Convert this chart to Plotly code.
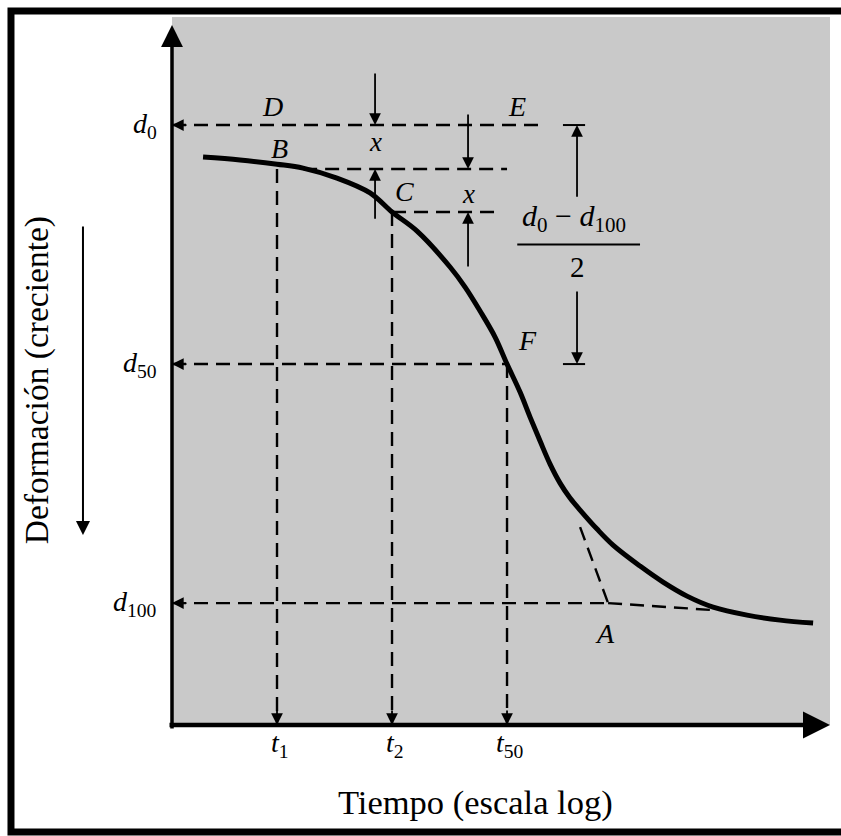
import numpy as np
import plotly.graph_objects as go

# Consolidation curve: elapsed time (log scale) vs. deformation (grows downward)
tiempo = [0.41, 0.64, 1.0, 1.368, 2.06, 3.07, 4.0, 5.41, 8.05, 9.65, 11.56, 13.85, 16.0,
          18.72, 21.12, 23.83, 26.88, 30.32, 34.20, 38.59, 47.36, 57.43, 79.54, 104.95,
          140.1, 191.8, 288.9, 430.1, 640.3]
deformacion = [1.067, 1.073, 1.082, 1.090, 1.111, 1.142, 1.182, 1.222, 1.297, 1.339, 1.389,
               1.4435, 1.500, 1.5586, 1.6109, 1.6611, 1.7092, 1.7490, 1.7803, 1.8054, 1.8452,
               1.8787, 1.9226, 1.9561, 1.9854, 2.0084, 2.0251, 2.0356, 2.0418]

# Axis limits
T_MIN, T_MAX = 0.282, 785.0
D_TOP, D_BOTTOM = 0.774, 2.255

# Casagrande construction: chosen times and deformation levels
T1, T2, T50 = 1.0, 4.0, 16.0
D0, DB, DC, D50, D100 = 1.0, 1.092, 1.182, 1.5, 2.0
T_A = 54.1                                   # intersection of both tangents (point A)
tangente_t, tangente_d = [38.6, T_A], [1.841, D100]   # steep tangent through the inflection
cola_t, cola_d = [T_A, 192.0], [D100, 2.0146]         # tangent to the tail of the curve

# Extents of the horizontal guide lines
guia_d0_t = [T_MIN, 23.8]
guia_b_t = [1.37, 16.0]
guia_c_t = [T2, 15.0]
guia_d50_t = [T_MIN, T50]
guia_d100_t = [T_MIN, T_A]

# Dimension arrows: x position, tail deformation, head deformation
T_X1, T_X2, T_MITAD = 3.26, 10.0, 37.2
cotas = [
    (T_X1, 0.889, D0), (T_X1, 1.199, DB),
    (T_X2, 0.975, DB), (T_X2, 1.299, DC),
    (T_MITAD, 1.153, D0), (T_MITAD, 1.345, D50),
]
marcas_t = [31.4, 41.0]                      # short ticks closing the (d0 - d100)/2 dimension
fraccion_t = [18.1, 79.5]                    # fraction bar of the (d0 - d100)/2 label
D_FRACCION = 1.25

FONT = "Liberation Serif, Times New Roman, serif"
GRIS = "#c9c9c9"
DASH = "14px,8px"

lx = np.log10
fig = go.Figure()


def guia(xs, ys):
    fig.add_trace(go.Scatter(x=xs, y=ys, mode="lines", hoverinfo="skip",
                             line=dict(color="black", width=2.4, dash=DASH)))


# horizontal dashed guides
guia(guia_d0_t, [D0, D0])
guia(guia_b_t, [DB, DB])
guia(guia_c_t, [DC, DC])
guia(guia_d50_t, [D50, D50])
guia(guia_d100_t, [D100, D100])
guia(tangente_t, tangente_d)
guia(cola_t, cola_d)
# vertical dashed guides down to the time axis
guia([T1, T1], [DB, D_BOTTOM])
guia([T2, T2], [DC, D_BOTTOM])
guia([T50, T50], [D50, D_BOTTOM])

# solid ticks and fraction bar
for d in (D0, D50):
    fig.add_trace(go.Scatter(x=marcas_t, y=[d, d], mode="lines", hoverinfo="skip",
                             line=dict(color="black", width=2)))
fig.add_trace(go.Scatter(x=fraccion_t, y=[D_FRACCION, D_FRACCION], mode="lines",
                         hoverinfo="skip", line=dict(color="black", width=2)))

# consolidation curve
fig.add_trace(go.Scatter(x=tiempo, y=deformacion, mode="lines", hoverinfo="skip",
                         line=dict(color="black", width=5, shape="spline", smoothing=1.0)))

ann = []

# dimension arrows
for t, d_cola, d_punta in cotas:
    ann.append(dict(x=lx(t), y=d_punta, ax=lx(t), ay=d_cola, xref="x", yref="y",
                    axref="x", ayref="y", text="", showarrow=True, arrowhead=2,
                    arrowsize=1.3, arrowwidth=1.8, arrowcolor="black", standoff=0))

# arrowheads where the guides reach the axes
for d in (D0, D50, D100):
    ann.append(dict(x=lx(T_MIN), y=d, xref="x", yref="y", ax=16, ay=0, text="",
                    showarrow=True, arrowhead=2, arrowsize=1.3, arrowwidth=1.8,
                    arrowcolor="black", standoff=0))
for t in (T1, T2, T50):
    ann.append(dict(x=lx(t), y=D_BOTTOM, xref="x", yref="y", ax=0, ay=-16, text="",
                    showarrow=True, arrowhead=2, arrowsize=1.3, arrowwidth=1.8,
                    arrowcolor="black", standoff=0))

# axes drawn as arrows
ann.append(dict(x=0, y=0.9887, xref="paper", yref="paper", ax=0, ay=705, text="",
                showarrow=True, arrowhead=2, arrowsize=1.25, arrowwidth=3.5,
                arrowcolor="black", standoff=0))
ann.append(dict(x=1.0, y=0, xref="paper", yref="paper", ax=-662, ay=0, text="",
                showarrow=True, arrowhead=2, arrowsize=1.2, arrowwidth=4.5,
                arrowcolor="black", standoff=0))
# arrow beside the vertical title (deformation increases downward)
ann.append(dict(x=-0.1353, y=0.2684, xref="paper", yref="paper", ax=0, ay=-310, text="",
                showarrow=True, arrowhead=2, arrowsize=1.4, arrowwidth=2,
                arrowcolor="black", standoff=0))


def etiqueta(texto, t, d, dx=0, dy=0, size=27):
    ann.append(dict(x=lx(t), y=d, xref="x", yref="y", text=texto, showarrow=False,
                    xanchor="center", yanchor="middle", xshift=dx, yshift=dy,
                    font=dict(family=FONT, size=size, color="black")))


etiqueta("<i>D</i>", T1, D0, -5, 19, 28)
etiqueta("<i>E</i>", T50, D0, 10, 19, 28)
etiqueta("<i>B</i>", T1, DB, 2, 21, 28)
etiqueta("<i>C</i>", T2, DC, 12, 21, 28)
etiqueta("<i>F</i>", T50, D50, 20, 24, 28)
etiqueta("<i>A</i>", T_A, D100, -3, -30, 28)
etiqueta("<i>x</i>", T_X1, D0, 0, -17, 27)
etiqueta("<i>x</i>", T_X2, DB, 0, -25, 27)
etiqueta("<i>d</i><sub>0</sub> − <i>d</i><sub>100</sub>", T_MITAD, D_FRACCION, -3, 27, 30)
etiqueta("2", T_MITAD, D_FRACCION, 0, -22, 29)

# time labels under the axis
for t, sub in ((T1, "1"), (T2, "2"), (T50, "50")):
    etiqueta(f"<i>t</i><sub>{sub}</sub>", t, D_BOTTOM, 3, -19, 28)

# deformation labels left of the axis
for d, sub in ((D0, "0"), (D50, "50"), (D100, "100")):
    ann.append(dict(x=0, y=d, xref="paper", yref="y", xanchor="right", yanchor="middle",
                    xshift=-13, text=f"<i>d</i><sub>{sub}</sub>", showarrow=False,
                    font=dict(family=FONT, size=28, color="black")))

# axis titles
ann.append(dict(x=0.4605, y=-0.110, xref="paper", yref="paper", xanchor="center",
                yanchor="middle", text="Tiempo (escala log)", showarrow=False,
                font=dict(family=FONT, size=34.5, color="black")))
ann.append(dict(x=-0.205, y=0.487, xref="paper", yref="paper", xanchor="center",
                yanchor="middle", text="Deformación (creciente)", textangle=-90,
                showarrow=False, font=dict(family=FONT, size=33.5, color="black")))

fig.update_layout(
    width=841, height=836,
    margin=dict(l=172, r=11, t=17, b=111, autoexpand=False),
    paper_bgcolor="white", plot_bgcolor=GRIS,
    showlegend=False,
    xaxis=dict(type="log", range=[lx(T_MIN), lx(T_MAX)], visible=False),
    yaxis=dict(range=[D_BOTTOM, D_TOP], visible=False),
    annotations=ann,
    shapes=[dict(type="rect", xref="paper", yref="paper",
                 x0=-0.2447, x1=1.03, y0=-0.1511, y1=1.0085,
                 line=dict(color="black", width=7), fillcolor="rgba(0,0,0,0)")],
)

fig.write_html("out.html")
